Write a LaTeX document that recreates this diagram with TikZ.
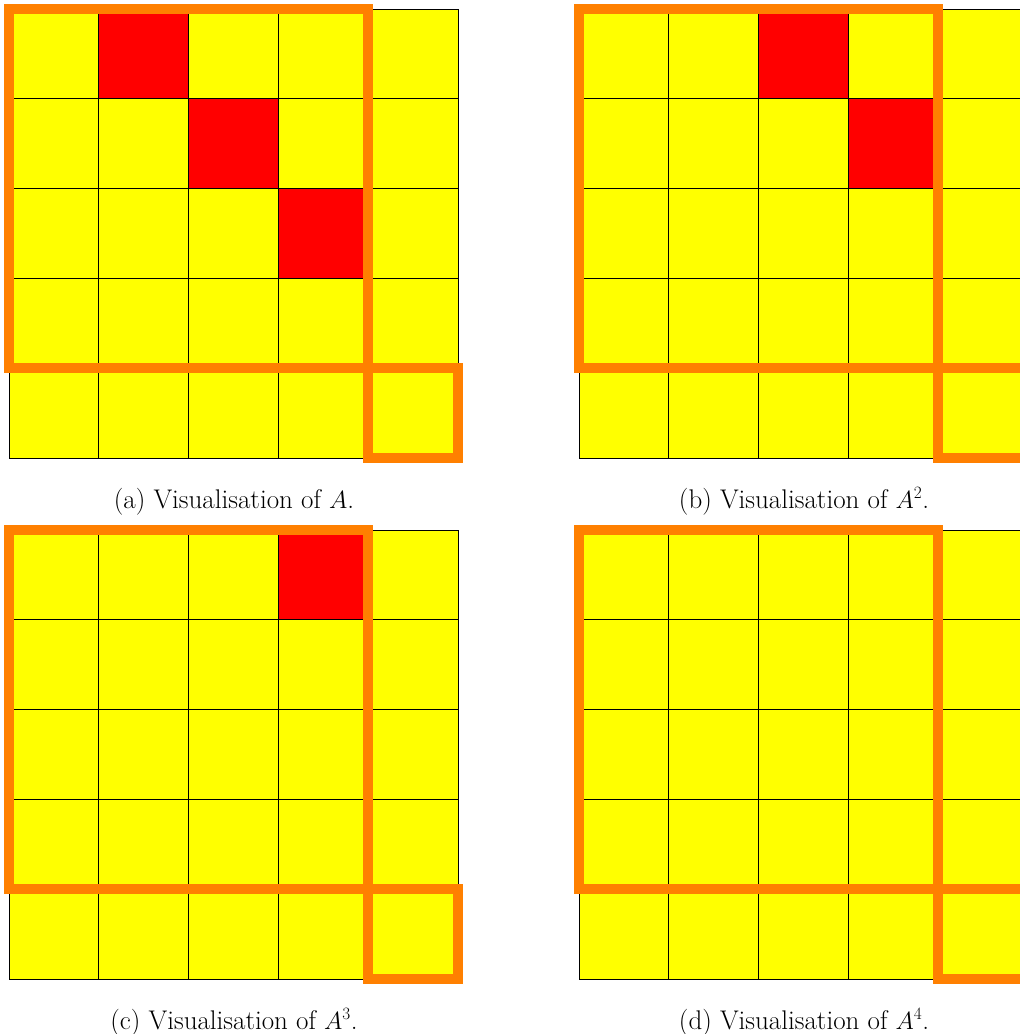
\documentclass[tikz,border=0pt]{standalone}
\definecolor{cellyellow}{RGB}{255,255,0}
\definecolor{cellred}{RGB}{255,0,0}
\definecolor{frameorange}{RGB}{255,128,0}
\tikzset{
  gridline/.style={draw=black, line width=0.8pt},
  framebox/.style={draw=frameorange, line width=9.5pt},
  caption/.style={anchor=base, inner sep=0pt, font=\fontsize{27}{32}\selectfont},
}
\newcommand\mypanel[2]{%
  \begin{scope}[shift={(#1,#2)}]
    \fill[cellyellow] (0,0) rectangle (5*\cs,5*\cs);
  \end{scope}}
\newcommand\mygrid[2]{%
  \begin{scope}[shift={(#1,#2)}]
    \foreach \i in {0,...,5} {
      \draw[gridline] (\i*\cs,0) -- (\i*\cs,5*\cs);
      \draw[gridline] (0,\i*\cs) -- (5*\cs,\i*\cs);
    }
    \draw[framebox] (0,0) rectangle (4*\cs,4*\cs);
    \draw[framebox] (4*\cs,4*\cs) rectangle (5*\cs,5*\cs);
  \end{scope}}
\newcommand\myred[4]{%
  \fill[cellred] (#1+#3*\cs,#2+#4*\cs) rectangle ++(\cs,\cs);}
\begin{document}
\begin{tikzpicture}[x=1pt,y=-1pt]
\def\cs{89.8}
\useasboundingbox (0,0) rectangle (1020,1034);
\clip (0,0) rectangle (1020,1034);
% panel backgrounds
\mypanel{9}{9}
\mypanel{579}{9}
\mypanel{9}{530}
\mypanel{579}{530}
% red cells (a)
\myred{9}{9}{1}{0}
\myred{9}{9}{2}{1}
\myred{9}{9}{3}{2}
% red cells (b)
\myred{579}{9}{2}{0}
\myred{579}{9}{3}{1}
% red cells (c)
\myred{9}{530}{3}{0}
% grids and frames
\mygrid{9}{9}
\mygrid{579}{9}
\mygrid{9}{530}
\mygrid{579}{530}
% captions
\node[caption] (capa) at (234,508) {(a) Visualisation of $A$.};
\node[caption] (capb) at (804,508) {(b) Visualisation of $A^{2}$.};
\node[caption] (capc) at (234,1029) {(c) Visualisation of $A^{3}$.};
\node[caption] (capd) at (804,1029) {(d) Visualisation of $A^{4}$.};
\end{tikzpicture}
\end{document}
